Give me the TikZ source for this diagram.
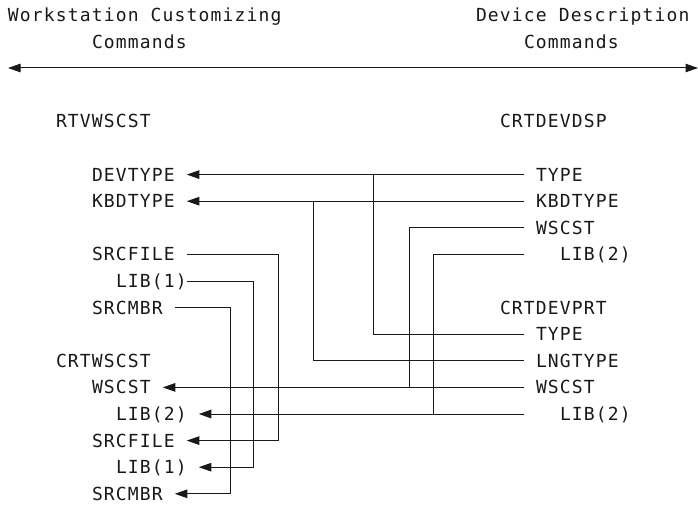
\documentclass[tikz,border=0pt]{standalone}
\usepackage{fontspec}
\usetikzlibrary{arrows.meta}
\newfontfamily\lblfont[LetterSpace=6.4]{DejaVu Sans Mono}
\begin{document}
\begin{tikzpicture}[x=1pt,y=-1pt,
  txt/.style={font=\lblfont\fontsize{18}{18}\selectfont, inner sep=0pt, outer sep=0pt,
    text height=13.1pt, text depth=0pt, anchor=west, text=black!90},
  lbl/.style={txt, outer xsep=12pt},
  lblfar/.style={txt, outer xsep=36pt},
  wire/.style={line width=1pt, black!90},
  tip/.tip={Triangle[length=12.5pt,width=8.5pt]},
  arr/.style={wire, -tip}]
\useasboundingbox (0,0) rectangle (698,508);
% headers
\node[txt] (h1) at (8,15) {Workstation Customizing};
\node[txt] (h2) at (92,41.6) {Commands};
\node[txt] (h3) at (476,15) {Device Description};
\node[txt] (h4) at (524,41.6) {Commands};
\coordinate (hl) at (8,68);
\coordinate (hr) at (698,68);
\draw[wire, tip-tip] (hl) -- (hr);
% left column
\node[txt] (rtv) at (56,121.4) {RTVWSCST};
\node[lbl] (devtype) at (80,174.6) {DEVTYPE};
\node[lbl] (kbdtype) at (80,201.2) {KBDTYPE};
\node[lbl] (srcfile) at (80,254.4) {SRCFILE};
\node[txt] (lib1) at (116,281.0) {LIB(1)};
\node[lbl] (srcmbr) at (80,307.6) {SRCMBR};
\node[txt] (crtw) at (56,360.8) {CRTWSCST};
\node[lbl] (cwscst) at (80,387.4) {WSCST};
\node[lbl] (clib2) at (104,414.0) {LIB(2)};
\node[lbl] (csrcfile) at (80,440.6) {SRCFILE};
\node[lbl] (clib1) at (104,467.2) {LIB(1)};
\node[lbl] (csrcmbr) at (80,493.8) {SRCMBR};
% right column
\node[txt] (dsp) at (500,121.4) {CRTDEVDSP};
\node[lbl] (dtype) at (524,174.6) {TYPE};
\node[lbl] (dkbd) at (524,201.2) {KBDTYPE};
\node[lbl] (dwscst) at (524,227.8) {WSCST};
\node[lblfar] (dlib2) at (524,254.4) {LIB(2)};
\node[txt] (prt) at (500,307.6) {CRTDEVPRT};
\node[lbl] (ptype) at (524,334.2) {TYPE};
\node[lbl] (plng) at (524,360.8) {LNGTYPE};
\node[lbl] (pwscst) at (524,387.4) {WSCST};
\node[lblfar] (plib2) at (524,414.0) {LIB(2)};
% junction columns
\coordinate (ja) at (230,0);
\coordinate (jb) at (253,0);
\coordinate (jc) at (278,0);
\coordinate (jd) at (313,0);
\coordinate (je) at (373,0);
\coordinate (jf) at (409,0);
\coordinate (jg) at (433,0);
% right-to-left arrows
\draw[arr] (dtype.west) -- (devtype.east);
\draw[arr] (dkbd.west) -- (kbdtype.east);
\draw[arr] (pwscst.west) -- (cwscst.east);
\draw[arr] (plib2.west) -- (clib2.east);
% right junctions
\draw[wire] (ptype.west) -| (je |- dtype.west);
\draw[wire] (plng.west) -| (jd |- dkbd.west);
\draw[wire] (dwscst.west) -| (jf |- pwscst.west);
\draw[wire] (dlib2.west) -| (jg |- plib2.west);
% left loops
\draw[arr] (srcfile.east) -- (srcfile.east -| jc) |- (csrcfile.east);
\draw[arr] (lib1.east) -- (lib1.east -| jb) |- (clib1.east);
\draw[arr] (srcmbr.east) -- (srcmbr.east -| ja) |- (csrcmbr.east);
\end{tikzpicture}
\end{document}
